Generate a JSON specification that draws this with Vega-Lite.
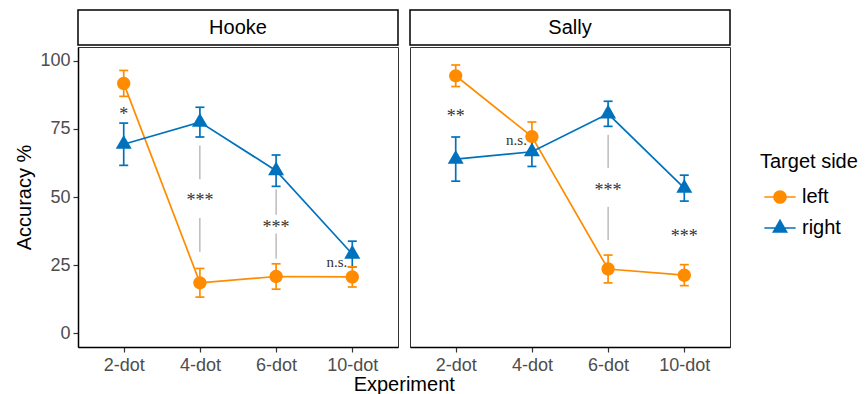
{
  "$schema": "https://vega.github.io/schema/vega-lite/v6.json",
  "padding": {"left": 14, "top": 9, "right": 0, "bottom": 0},
  "spacing": 10,
  "title": {"text": "Experiment", "orient": "bottom", "anchor": "middle", "font": "Liberation Sans", "fontSize": 20, "fontWeight": "normal", "color": "black", "offset": 0, "dx": -32},
  "datasets": {
    "panels": [{"panel": "Hooke"}, {"panel": "Sally"}],
    "means": [
      {"panel": "Hooke", "exp": "2-dot", "n": 2, "side": "left", "acc": 91.65, "lo": 86.9, "hi": 96.4},
      {"panel": "Hooke", "exp": "4-dot", "n": 4, "side": "left", "acc": 18.55, "lo": 13.3, "hi": 23.8},
      {"panel": "Hooke", "exp": "6-dot", "n": 6, "side": "left", "acc": 20.85, "lo": 16.2, "hi": 25.5},
      {"panel": "Hooke", "exp": "10-dot", "n": 10, "side": "left", "acc": 20.7, "lo": 17.0, "hi": 24.4},
      {"panel": "Sally", "exp": "2-dot", "n": 2, "side": "left", "acc": 94.45, "lo": 90.5, "hi": 98.4},
      {"panel": "Sally", "exp": "4-dot", "n": 4, "side": "left", "acc": 72.15, "lo": 66.8, "hi": 77.5},
      {"panel": "Sally", "exp": "6-dot", "n": 6, "side": "left", "acc": 23.6, "lo": 18.5, "hi": 28.7},
      {"panel": "Sally", "exp": "10-dot", "n": 10, "side": "left", "acc": 21.35, "lo": 17.5, "hi": 25.2},
      {"panel": "Hooke", "exp": "2-dot", "n": 2, "side": "right", "acc": 69.35, "lo": 61.6, "hi": 77.1},
      {"panel": "Hooke", "exp": "4-dot", "n": 4, "side": "right", "acc": 77.45, "lo": 72.0, "hi": 82.9},
      {"panel": "Hooke", "exp": "6-dot", "n": 6, "side": "right", "acc": 59.65, "lo": 53.9, "hi": 65.4},
      {"panel": "Hooke", "exp": "10-dot", "n": 10, "side": "right", "acc": 29.1, "lo": 24.4, "hi": 33.8},
      {"panel": "Sally", "exp": "2-dot", "n": 2, "side": "right", "acc": 63.9, "lo": 55.8, "hi": 72.0},
      {"panel": "Sally", "exp": "4-dot", "n": 4, "side": "right", "acc": 66.6, "lo": 61.2, "hi": 72.0},
      {"panel": "Sally", "exp": "6-dot", "n": 6, "side": "right", "acc": 80.5, "lo": 75.9, "hi": 85.1},
      {"panel": "Sally", "exp": "10-dot", "n": 10, "side": "right", "acc": 53.25, "lo": 48.5, "hi": 58.0}
    ],
    "ann": [
      {"panel": "Hooke", "exp": "2-dot", "label": "*", "pos": 81.7},
      {"panel": "Hooke", "exp": "4-dot", "label": "***", "pos": 50.0},
      {"panel": "Hooke", "exp": "6-dot", "label": "***", "pos": 40.2},
      {"panel": "Hooke", "exp": "10-dot", "label": "n.s.", "pos": 25.7},
      {"panel": "Sally", "exp": "2-dot", "label": "**", "pos": 80.7},
      {"panel": "Sally", "exp": "4-dot", "label": "n.s.", "pos": 70.4},
      {"panel": "Sally", "exp": "6-dot", "label": "***", "pos": 53.5},
      {"panel": "Sally", "exp": "10-dot", "label": "***", "pos": 36.7}
    ],
    "seg": [
      {"panel": "Hooke", "exp": "4-dot", "top": 68.9, "bottom": 56.5},
      {"panel": "Hooke", "exp": "4-dot", "top": 42.3, "bottom": 29.9},
      {"panel": "Hooke", "exp": "6-dot", "top": 52.8, "bottom": 43.5},
      {"panel": "Hooke", "exp": "6-dot", "top": 36.6, "bottom": 27.4},
      {"panel": "Sally", "exp": "6-dot", "top": 72.8, "bottom": 60.6},
      {"panel": "Sally", "exp": "6-dot", "top": 46.4, "bottom": 34.2}
    ]
  },
  "hconcat": [
    {
      "spacing": 0,
      "vconcat": [
        {
          "width": 320, "height": 35,
          "view": {"stroke": "black", "strokeWidth": 1.5, "fill": "white"},
          "data": {"name": "panels"},
          "transform": [{"filter": "datum.panel === 'Hooke'"}],
          "mark": {"type": "text", "fontSize": 20, "font": "Liberation Sans", "color": "black", "baseline": "middle"},
          "encoding": {"text": {"field": "panel"}}
        },
        {
          "width": 320, "height": 300,
          "encoding": {
            "x": {"field": "exp", "type": "ordinal", "scale": {"type": "point", "domain": ["2-dot", "4-dot", "6-dot", "10-dot"], "padding": 0.6},
                  "axis": {"title": null, "labelAngle": 0, "labelPadding": 4}}
          },
          "layer": [
            {
              "data": {"name": "seg"},
              "transform": [{"filter": "datum.panel === 'Hooke'"}],
              "mark": {"type": "rule", "color": "#9a9a9a", "strokeWidth": 1},
              "encoding": {
                "y": {"field": "top", "type": "quantitative", "scale": {"domain": [-5, 105], "nice": false, "zero": false}, "title": "Accuracy %",
                      "axis": {"values": [0, 25, 50, 75, 100], "titlePadding": 5, "labelPadding": 3}},
                "y2": {"field": "bottom"}
              }
            },
            {
              "data": {"name": "means"},
              "transform": [{"filter": "datum.panel === 'Hooke'"}],
              "mark": {"type": "point", "filled": true, "opacity": 0, "size": 256, "strokeWidth": 0},
              "encoding": {
                "y": {"field": "acc", "type": "quantitative", "scale": {"domain": [-5, 105], "nice": false, "zero": false}, "title": "Accuracy %"},
                "color": {"field": "side", "type": "nominal", "scale": {"domain": ["left", "right"], "range": ["#FF8C00", "#0072BD"]}, "legend": {"title": "Target side"}},
                "shape": {"field": "side", "type": "nominal",
                          "scale": {"domain": ["left", "right"], "range": ["M-1.95,-0.1H-0.8V0.1H-1.95Z M0.8,-0.1H1.95V0.1H0.8Z M-0.85,0A0.85,0.85 0 1,1 0.85,0A0.85,0.85 0 1,1 -0.85,0Z", "M-1.95,-0.1H1.95V0.1H-1.95Z M0,-1.15L1,0.58L-1,0.58Z"]},
                          "legend": {"title": "Target side"}}
              }
            },
            {
              "data": {"name": "means"},
              "transform": [{"filter": "datum.panel === 'Hooke'"}],
              "mark": {"type": "rule", "strokeWidth": 1.7},
              "encoding": {
                "y": {"field": "lo", "type": "quantitative", "scale": {"domain": [-5, 105], "nice": false, "zero": false}, "title": "Accuracy %"},
                "y2": {"field": "hi"},
                "color": {"condition": {"test": "datum.side === 'left'", "value": "#FF8C00"}, "value": "#0072BD"}
              }
            },
            {
              "data": {"name": "means"},
              "transform": [{"filter": "datum.panel === 'Hooke'"}],
              "mark": {"type": "tick", "orient": "horizontal", "size": 9, "thickness": 1.7, "opacity": 1},
              "encoding": {
                "y": {"field": "lo", "type": "quantitative", "scale": {"domain": [-5, 105], "nice": false, "zero": false}, "title": "Accuracy %"},
                "color": {"condition": {"test": "datum.side === 'left'", "value": "#FF8C00"}, "value": "#0072BD"}
              }
            },
            {
              "data": {"name": "means"},
              "transform": [{"filter": "datum.panel === 'Hooke'"}],
              "mark": {"type": "tick", "orient": "horizontal", "size": 9, "thickness": 1.7, "opacity": 1},
              "encoding": {
                "y": {"field": "hi", "type": "quantitative", "scale": {"domain": [-5, 105], "nice": false, "zero": false}, "title": "Accuracy %"},
                "color": {"condition": {"test": "datum.side === 'left'", "value": "#FF8C00"}, "value": "#0072BD"}
              }
            },
            {
              "data": {"name": "means"},
              "transform": [{"filter": "datum.panel === 'Hooke'"}],
              "mark": {"type": "line", "strokeWidth": 1.7},
              "encoding": {
                "y": {"field": "acc", "type": "quantitative", "scale": {"domain": [-5, 105], "nice": false, "zero": false}, "title": "Accuracy %"},
                "color": {"condition": {"test": "datum.side === 'left'", "value": "#FF8C00"}, "value": "#0072BD"},
                "detail": {"field": "side", "type": "nominal"},
                "order": {"field": "n", "type": "quantitative"}
              }
            },
            {
              "data": {"name": "means"},
              "transform": [{"filter": "datum.panel === 'Hooke'"}],
              "mark": {"type": "point", "filled": true, "opacity": 1, "size": 256, "strokeWidth": 0},
              "encoding": {
                "y": {"field": "acc", "type": "quantitative", "scale": {"domain": [-5, 105], "nice": false, "zero": false}, "title": "Accuracy %"},
                "color": {"condition": {"test": "datum.side === 'left'", "value": "#FF8C00"}, "value": "#0072BD"},
                "shape": {"condition": {"test": "datum.side === 'left'", "value": "M-0.83,0A0.83,0.83 0 1,1 0.83,0A0.83,0.83 0 1,1 -0.83,0Z"}, "value": "M0,-1.15L1,0.58L-1,0.58Z"}
              }
            },
            {
              "data": {"name": "ann"},
              "transform": [{"filter": "datum.panel === 'Hooke' && datum.label !== 'n.s.'"}],
              "mark": {"type": "text", "font": "Liberation Serif", "fontSize": 18, "color": "#333333", "baseline": "alphabetic", "dy": 9},
              "encoding": {
                "y": {"field": "pos", "type": "quantitative", "scale": {"domain": [-5, 105], "nice": false, "zero": false}, "title": "Accuracy %"},
                "text": {"field": "label"}
              }
            },
            {
              "data": {"name": "ann"},
              "transform": [{"filter": "datum.panel === 'Hooke' && datum.label === 'n.s.'"}],
              "mark": {"type": "text", "font": "Liberation Serif", "fontSize": 15, "color": "#333333", "baseline": "alphabetic", "align": "right", "dx": -5, "dy": 3.5},
              "encoding": {
                "y": {"field": "pos", "type": "quantitative", "scale": {"domain": [-5, 105], "nice": false, "zero": false}, "title": "Accuracy %"},
                "text": {"field": "label"}
              }
            }
          ]
        }
      ]
    },
    {
      "spacing": 0,
      "vconcat": [
        {
          "width": 320, "height": 35,
          "view": {"stroke": "black", "strokeWidth": 1.5, "fill": "white"},
          "data": {"name": "panels"},
          "transform": [{"filter": "datum.panel === 'Sally'"}],
          "mark": {"type": "text", "fontSize": 20, "font": "Liberation Sans", "color": "black", "baseline": "middle"},
          "encoding": {"text": {"field": "panel"}}
        },
        {
          "width": 320, "height": 300,
          "encoding": {
            "x": {"field": "exp", "type": "ordinal", "scale": {"type": "point", "domain": ["2-dot", "4-dot", "6-dot", "10-dot"], "padding": 0.6},
                  "axis": {"title": null, "labelAngle": 0, "labelPadding": 4}}
          },
          "layer": [
            {
              "data": {"name": "seg"},
              "transform": [{"filter": "datum.panel === 'Sally'"}],
              "mark": {"type": "rule", "color": "#9a9a9a", "strokeWidth": 1},
              "encoding": {
                "y": {"field": "top", "type": "quantitative", "scale": {"domain": [-5, 105], "nice": false, "zero": false}, "axis": null},
                "y2": {"field": "bottom"}
              }
            },
            {
              "data": {"name": "means"},
              "transform": [{"filter": "datum.panel === 'Sally'"}],
              "mark": {"type": "rule", "strokeWidth": 1.7},
              "encoding": {
                "y": {"field": "lo", "type": "quantitative", "scale": {"domain": [-5, 105], "nice": false, "zero": false}, "axis": null},
                "y2": {"field": "hi"},
                "color": {"condition": {"test": "datum.side === 'left'", "value": "#FF8C00"}, "value": "#0072BD"}
              }
            },
            {
              "data": {"name": "means"},
              "transform": [{"filter": "datum.panel === 'Sally'"}],
              "mark": {"type": "tick", "orient": "horizontal", "size": 9, "thickness": 1.7, "opacity": 1},
              "encoding": {
                "y": {"field": "lo", "type": "quantitative", "scale": {"domain": [-5, 105], "nice": false, "zero": false}, "axis": null},
                "color": {"condition": {"test": "datum.side === 'left'", "value": "#FF8C00"}, "value": "#0072BD"}
              }
            },
            {
              "data": {"name": "means"},
              "transform": [{"filter": "datum.panel === 'Sally'"}],
              "mark": {"type": "tick", "orient": "horizontal", "size": 9, "thickness": 1.7, "opacity": 1},
              "encoding": {
                "y": {"field": "hi", "type": "quantitative", "scale": {"domain": [-5, 105], "nice": false, "zero": false}, "axis": null},
                "color": {"condition": {"test": "datum.side === 'left'", "value": "#FF8C00"}, "value": "#0072BD"}
              }
            },
            {
              "data": {"name": "means"},
              "transform": [{"filter": "datum.panel === 'Sally'"}],
              "mark": {"type": "line", "strokeWidth": 1.7},
              "encoding": {
                "y": {"field": "acc", "type": "quantitative", "scale": {"domain": [-5, 105], "nice": false, "zero": false}, "axis": null},
                "color": {"condition": {"test": "datum.side === 'left'", "value": "#FF8C00"}, "value": "#0072BD"},
                "detail": {"field": "side", "type": "nominal"},
                "order": {"field": "n", "type": "quantitative"}
              }
            },
            {
              "data": {"name": "means"},
              "transform": [{"filter": "datum.panel === 'Sally'"}],
              "mark": {"type": "point", "filled": true, "opacity": 1, "size": 256, "strokeWidth": 0},
              "encoding": {
                "y": {"field": "acc", "type": "quantitative", "scale": {"domain": [-5, 105], "nice": false, "zero": false}, "axis": null},
                "color": {"condition": {"test": "datum.side === 'left'", "value": "#FF8C00"}, "value": "#0072BD"},
                "shape": {"condition": {"test": "datum.side === 'left'", "value": "M-0.83,0A0.83,0.83 0 1,1 0.83,0A0.83,0.83 0 1,1 -0.83,0Z"}, "value": "M0,-1.15L1,0.58L-1,0.58Z"}
              }
            },
            {
              "data": {"name": "ann"},
              "transform": [{"filter": "datum.panel === 'Sally' && datum.label !== 'n.s.'"}],
              "mark": {"type": "text", "font": "Liberation Serif", "fontSize": 18, "color": "#333333", "baseline": "alphabetic", "dy": 9},
              "encoding": {
                "y": {"field": "pos", "type": "quantitative", "scale": {"domain": [-5, 105], "nice": false, "zero": false}, "axis": null},
                "text": {"field": "label"}
              }
            },
            {
              "data": {"name": "ann"},
              "transform": [{"filter": "datum.panel === 'Sally' && datum.label === 'n.s.'"}],
              "mark": {"type": "text", "font": "Liberation Serif", "fontSize": 15, "color": "#333333", "baseline": "alphabetic", "align": "right", "dx": -5, "dy": 3.5},
              "encoding": {
                "y": {"field": "pos", "type": "quantitative", "scale": {"domain": [-5, 105], "nice": false, "zero": false}, "axis": null},
                "text": {"field": "label"}
              }
            }
          ]
        }
      ]
    }
  ],
  "config": {
    "font": "Liberation Sans",
    "view": {"stroke": "#333333", "strokeWidth": 1},
    "axis": {
      "grid": false,
      "labelFont": "Liberation Sans", "labelFontSize": 18, "labelColor": "#4d4d4d",
      "titleFont": "Liberation Sans", "titleFontSize": 20, "titleFontWeight": "normal", "titleColor": "black",
      "domainColor": "black", "domainWidth": 1.5,
      "tickColor": "#333333", "tickSize": 5, "tickWidth": 1.2
    },
    "legend": {
      "orient": "none", "legendX": 682, "legendY": 142, "padding": 0,
      "titleFont": "Liberation Sans", "titleFontSize": 20, "titleFontWeight": "normal", "titleColor": "black",
      "labelFont": "Liberation Sans", "labelFontSize": 20, "labelColor": "black",
      "symbolSize": 256, "symbolOffset": 10, "labelOffset": 12, "rowPadding": 11, "titlePadding": 15,
      "symbolStrokeWidth": 0, "symbolOpacity": 1
    }
  }
}
